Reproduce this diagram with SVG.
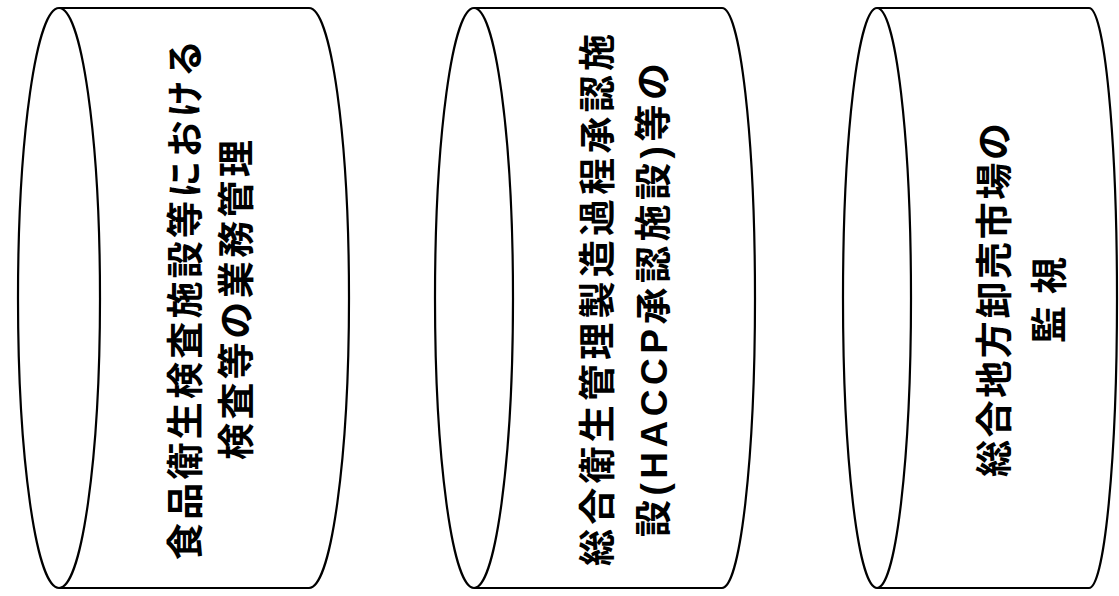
<svg xmlns="http://www.w3.org/2000/svg" width="1119" height="596" viewBox="0 0 1119 596">
<style>
.shape{fill:#fff;stroke:#000;stroke-width:2.2}
.lbl{font-family:"Liberation Sans","Noto Sans CJK JP",sans-serif;font-weight:bold;font-size:37px;fill:#000;text-anchor:middle;dominant-baseline:central}
</style>
<rect width="1119" height="596" fill="#fff"/>
<g id="node1">
<path class="shape" d="M59,8 L309,8 A40,290 0 0 1 309,588 L59,588"/>
<ellipse class="shape" cx="59" cy="298" rx="41" ry="290"/>
<text class="lbl" transform="translate(186,300) rotate(-90)" textLength="520" lengthAdjust="spacing">食品衛生検査施設等における</text>
<text class="lbl" transform="translate(237,300) rotate(-90)" textLength="320" lengthAdjust="spacing">検査等の業務管理</text>
</g>
<g id="node2">
<path class="shape" d="M474,8 L722,8 A33,290 0 0 1 722,588 L474,588"/>
<ellipse class="shape" cx="474" cy="298" rx="39" ry="290"/>
<text class="lbl" transform="translate(598,300) rotate(-90)" textLength="532" lengthAdjust="spacing">総合衛生管理製造過程承認施</text>
<text class="lbl" transform="translate(654,300) rotate(-90)" textLength="474" lengthAdjust="spacing">設(HACCP承認施設)等の</text>
</g>
<g id="node3">
<path class="shape" d="M877,8 L1089,8 A28,290 0 0 1 1089,588 L877,588"/>
<ellipse class="shape" cx="877" cy="298" rx="34" ry="290"/>
<text class="lbl" transform="translate(995,300) rotate(-90)" textLength="354" lengthAdjust="spacing">総合地方卸売市場の</text>
<text class="lbl" transform="translate(1050,300) rotate(-90)" textLength="86" lengthAdjust="spacing">監視</text>
</g>
<g id="connectors"></g>
</svg>
